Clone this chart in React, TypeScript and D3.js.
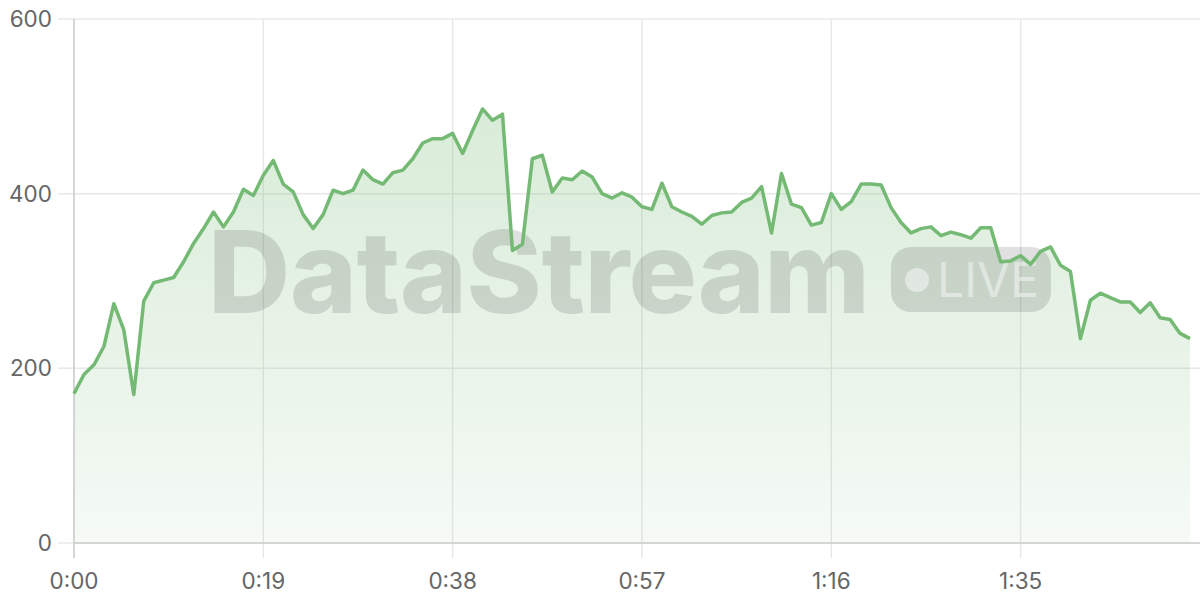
import React from "react";
import * as d3 from "d3";

const seconds: number[] = Array.from({ length: 113 }, (_, i) => i);
const values: number[] = [
  171, 193, 204, 225, 274, 244, 170, 277, 298, 301,
  304, 322, 343, 360, 379, 362, 379, 405, 398, 421,
  438, 411, 402, 376, 360, 376, 404, 400, 404, 427,
  416, 411, 424, 427, 440, 458, 463, 463, 469, 446,
  472, 497, 484, 491, 335, 342, 440, 444, 402, 418,
  416, 426, 419, 400, 395, 401, 396, 385, 382, 412,
  385, 379, 374, 365, 375, 378, 379, 390, 395, 408,
  355, 423, 388, 384, 364, 367, 400, 382, 391, 411,
  411, 410, 384, 367, 355, 360, 362, 352, 356, 353,
  349, 361, 361, 322, 323, 329, 319, 334, 339, 318,
  311, 234, 278, 286, 281, 276, 276, 264, 275, 258,
  256, 240, 234,
];
const xTicks: number[] = [0, 19, 38, 57, 76, 95];
const yTicks: number[] = [0, 200, 400, 600];

const W = 1200;
const H = 600;
const FONT = "Inter, 'Noto Sans', sans-serif";

function fmt(s: number): string {
  const m = Math.floor(s / 60);
  const r = s % 60;
  return `${m}:${r < 10 ? "0" : ""}${r}`;
}

export default function App() {
  const x = d3.scaleLinear().domain([0, 113]).range([74, 1200]);
  const y = d3.scaleLinear().domain([0, 600]).range([543, 19]);
  const pts = seconds.map((s, i) => [s, values[i]] as [number, number]);
  const line = d3.line<[number, number]>().x((d) => x(d[0])).y((d) => y(d[1]));
  const area = d3
    .area<[number, number]>()
    .x((d) => x(d[0]))
    .y0(y(0))
    .y1((d) => y(d[1]));
  const [x0, x1] = x.range();
  const [yb, yt] = y.range();

  return (
    <svg
      width={W}
      height={H}
      style={{ position: "absolute", left: 0, top: 0, background: "#fff" }}
      fontFamily={FONT}
    >
      <defs>
        <linearGradient id="ag" x1="0" y1={yt} x2="0" y2={yb} gradientUnits="userSpaceOnUse">
          <stop offset="0" stopColor="#74b974" stopOpacity={0.32} />
          <stop offset="1" stopColor="#74b974" stopOpacity={0.07} />
        </linearGradient>
      </defs>
      {yTicks.map((t) => (
        <line key={"hg" + t} x1={58} x2={x1} y1={y(t)} y2={y(t)} stroke="#e8e8e8" strokeWidth={1.5} />
      ))}
      {xTicks.map((t) => (
        <line key={"vg" + t} x1={x(t)} x2={x(t)} y1={yt} y2={yb + 15} stroke="#e8e8e8" strokeWidth={1.5} />
      ))}
      <path d={area(pts) || ""} fill="url(#ag)" />
      <g fill="#000" fillOpacity={0.12}>
        <text x={208} y={313} fontSize={114} fontWeight={800} letterSpacing={-0.5} fontFamily={FONT}>
          DataStream
        </text>
        <rect x={891} y={247} width={160} height={65} rx={20} ry={20} />
      </g>
      <circle cx={917} cy={280} r={12} fill="#fff" fillOpacity={0.45} />
      <text x={937} y={297} fontSize={48} fontWeight={400} fill="#fff" fillOpacity={0.45} fontFamily={FONT}>
        LIVE
      </text>
      <line x1={x0} x2={x0} y1={yt} y2={yb + 15} stroke="#cccccc" strokeWidth={1.5} />
      <line x1={x0} x2={x1} y1={yb} y2={yb} stroke="#cccccc" strokeWidth={1.5} />
      <path d={line(pts) || ""} fill="none" stroke="#74b974" strokeWidth={3.5} strokeLinejoin="round" />
      {yTicks.map((t) => (
        <text key={"yl" + t} x={52} y={y(t)} dy="0.35em" textAnchor="end" fontSize={22.5} fill="#666">
          {t}
        </text>
      ))}
      {xTicks.map((t) => (
        <text key={"xl" + t} x={x(t)} y={589} textAnchor="middle" fontSize={22.5} fill="#666">
          {fmt(t)}
        </text>
      ))}
    </svg>
  );
}
